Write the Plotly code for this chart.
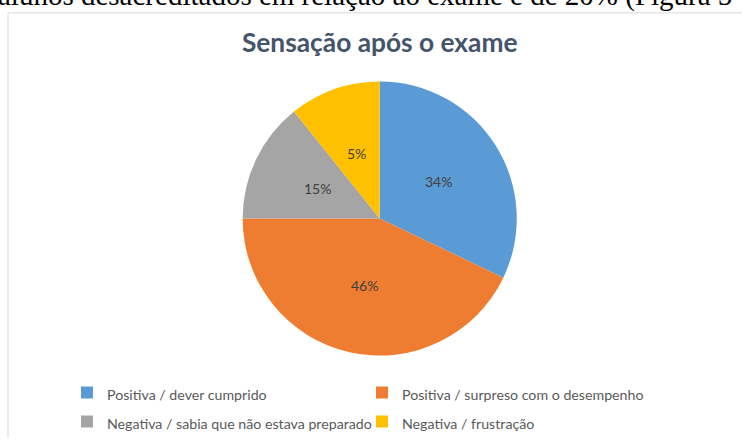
import math
import plotly.graph_objects as go

categories = [
    "Positiva / dever cumprido",
    "Positiva / surpreso com o desempenho",
    "Negativa / sabia que não estava preparado",
    "Negativa / frustração",
]
# slice sizes
values = [32.1, 42.9, 14.25, 10.75]
# percentage labels as printed on the chart
pct_labels = ["34%", "46%", "15%", "5%"]
colors = ["#5b9bd5", "#ef7d31", "#a5a5a5", "#ffc000"]

W, H = 742, 441
pie_x = [241.7 / W, 517.7 / W]
pie_y = [1 - 358 / H, 1 - 82 / H]

# label positions: halfway out along each slice's bisector (clockwise from 12 o'clock)
cx, cy = sum(pie_x) / 2, sum(pie_y) / 2
rx, ry = (pie_x[1] - pie_x[0]) / 2, (pie_y[1] - pie_y[0]) / 2
total = sum(values)
label_anns = []
cum = 0.0
for v, t in zip(values, pct_labels):
    mid = (cum + v / 2) / total * 2 * math.pi
    label_anns.append(dict(
        text=t, xref="paper", yref="paper",
        x=cx + 0.5 * rx * math.sin(mid), y=cy + 0.5 * ry * math.cos(mid),
        xanchor="center", yanchor="middle", showarrow=False,
        font=dict(family="Lato", size=14, color="#404040"),
    ))
    cum += v

fig = go.Figure()
fig.add_trace(go.Pie(
    labels=[f'<span style="font-size:14.2px">{c}</span>' for c in categories],
    values=values,
    textinfo="none",
    marker=dict(colors=colors, line=dict(width=0)),
    sort=False,
    direction="clockwise",
    rotation=0,
    hoverinfo="none",
    domain=dict(x=pie_x, y=pie_y),
))

fig.update_layout(
    width=W, height=H,
    margin=dict(l=0, r=0, t=0, b=0),
    paper_bgcolor="white",
    plot_bgcolor="white",
    title=dict(
        text="<b>Sensação após o exame</b>",
        font=dict(family="Lato", size=26.3, color="#44546a"),
        x=379.7 / W, xanchor="center", xref="paper",
        y=1 - 43 / H, yanchor="middle", yref="container",
    ),
    showlegend=True,
    legend=dict(
        orientation="h",
        x=(107 - 40) / W, xanchor="left",
        y=1 - 410 / H, yanchor="middle",
        font=dict(family="Lato", size=20, color="#595959"),
        entrywidth=250, entrywidthmode="pixels",
        bgcolor="rgba(0,0,0,0)",
        traceorder="normal",
    ),
    shapes=[
        dict(type="line", xref="paper", yref="paper",
             x0=8 / W, x1=1, y0=1 - 13 / H, y1=1 - 13 / H,
             line=dict(color="#d9d9d9", width=1)),
        dict(type="line", xref="paper", yref="paper",
             x0=8 / W, x1=8 / W, y0=0, y1=1 - 13 / H,
             line=dict(color="#d9d9d9", width=1)),
    ],
    annotations=[
        dict(text="alunos desacreditados em relação ao exame é de 20% (Figura 5",
             xref="paper", yref="paper", x=-4 / W, xanchor="left",
             y=1 - 14 / H, yanchor="bottom", showarrow=False,
             font=dict(family="Liberation Serif", size=29, color="black")),
    ] + label_anns,
)

fig.write_html("out.html", config={"displayModeBar": False},
               post_script="document.body.style.margin='0';")
